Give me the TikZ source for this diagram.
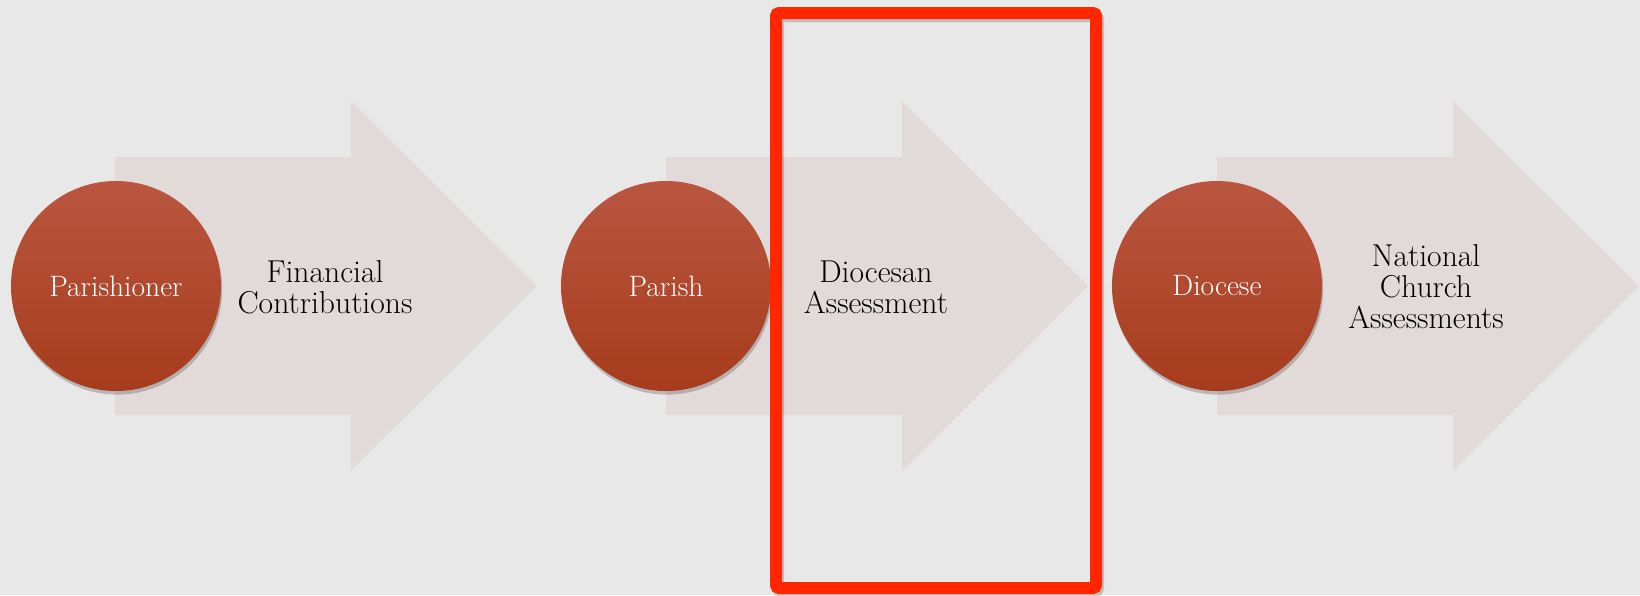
\documentclass[tikz,border=0pt]{standalone}
\usetikzlibrary{shadows}
\definecolor{bgc}{RGB}{233,232,232}
\definecolor{arrowc}{RGB}{226,217,217}
\definecolor{hubtop}{RGB}{186,86,64}
\definecolor{hubbot}{RGB}{166,60,28}
\definecolor{redc}{RGB}{255,38,0}
\begin{document}
\begin{tikzpicture}[x=0.025cm,y=-0.025cm,
  flowarrow/.style={fill=arrowc, draw=none},
  hub/.style={circle, minimum size=5.25cm, inner sep=0pt, top color=hubtop, bottom color=hubbot,
    text=white, font=\fontsize{21}{23}\selectfont,
    drop shadow={shadow xshift=0.03cm, shadow yshift=-0.09cm, opacity=0.3, fill=black!70}},
  label/.style={align=center, text=black, font=\fontsize{22.5}{22}\selectfont, inner sep=0pt},
  frame/.style={draw=redc, line width=0.3cm, rounded corners=0.08cm}]
  \fill[bgc] (0,0) rectangle (1640,595);
  \useasboundingbox (0,0) rectangle (1640,595);
  \foreach \ox in {0,551,1102}{
    \path[flowarrow] (115+\ox,157) -- (351+\ox,157) -- (351+\ox,101) -- (537+\ox,286)
      -- (351+\ox,471) -- (351+\ox,415) -- (115+\ox,415) -- cycle;
  }
  \node[hub] (p1) at (116,286) {Parishioner};
  \node[hub] (p2) at (666,286) {Parish};
  \node[hub] (p3) at (1217,286) {Diocese};
  \node[label] (t1) at (325,287) {Financial\\Contributions};
  \node[label] (t2) at (876,287) {Diocesan\\Assessment};
  \node[label] (t3) at (1426,287) {National\\Church\\Assessments};
  \draw[line width=0.3cm, black, opacity=0.18, rounded corners=0.08cm] (778,16) rectangle (1098,591);
  \draw[frame] (776,13) rectangle (1096,588);
\end{tikzpicture}
\end{document}
